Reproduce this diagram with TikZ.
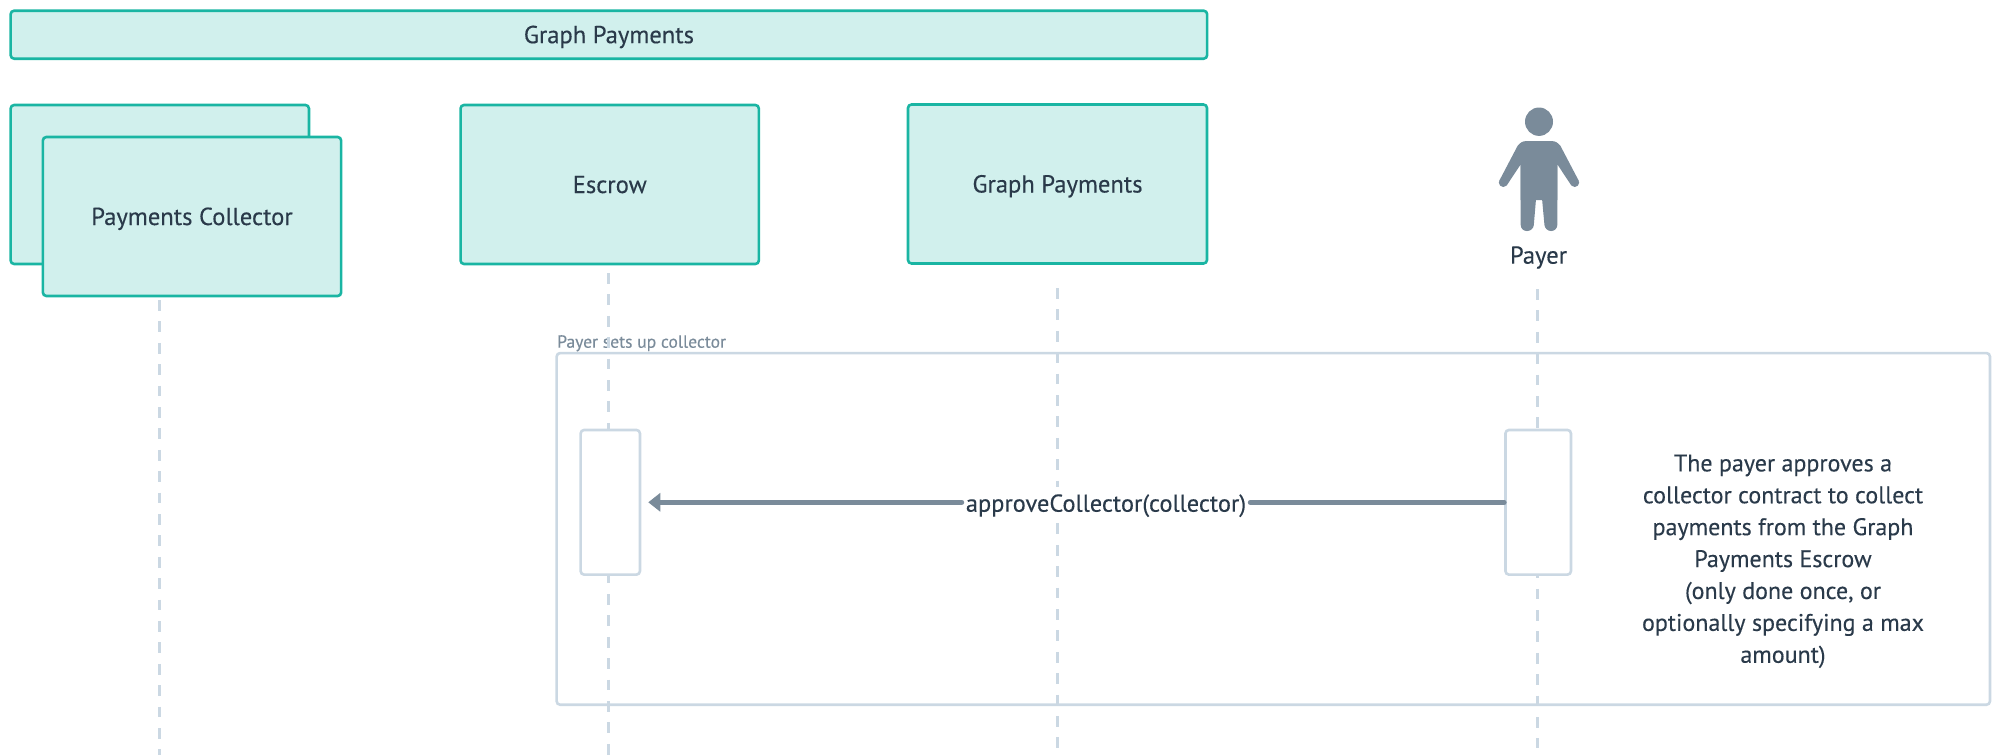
\documentclass[tikz,border=0pt]{standalone}
\usepackage{fontspec}
\setmainfont{PT Sans}
\newfontfamily\din[FakeBold=0.25]{PT Sans}
\usetikzlibrary{arrows.meta}
\definecolor{teal}{HTML}{1AB5A3}
\definecolor{tealfill}{HTML}{D1F0ED}
\definecolor{frameline}{HTML}{CBD8E3}
\definecolor{slate}{HTML}{7A8B9A}
\definecolor{ink}{HTML}{2A3A4A}
\newcommand{\lowered}[1]{\raisebox{-8.5pt}[0pt][0pt]{#1}}
\tikzset{
  x=1pt,y=-1pt,
  actor/.style={draw=teal,fill=tealfill,line width=2.6pt,rounded corners=3.5pt,text=ink,font=\din\fontsize{24.6}{28}\selectfont,inner sep=0pt},
  lifeline/.style={draw=frameline,line width=2.6pt,dash pattern=on 10.7pt off 10.7pt},
  activation/.style={draw=frameline,fill=white,line width=2.6pt,rounded corners=3.5pt,inner sep=0pt},
  msg/.style={draw=slate,line width=5pt,line cap=round},
  plain/.style={text=ink,font=\din\fontsize{24}{31.9}\selectfont,inner sep=0pt},
}
\begin{document}
\begin{tikzpicture}
\useasboundingbox (0,0) rectangle (2000,755);
% lifeline ends
\coordinate (colTop) at (159.4,300); \coordinate (colEnd) at (159.4,755);
\coordinate (escTop) at (608.5,273); \coordinate (escEnd) at (608.5,755);
\coordinate (gpTop) at (1057.5,288); \coordinate (gpEnd) at (1057.5,748);
\coordinate (payTop) at (1537.7,289); \coordinate (payEnd) at (1537.7,748);
% group frame
\node[draw=frameline,line width=2.6pt,rounded corners=3.5pt,minimum width=1433.3pt,minimum height=351.7pt,inner sep=0pt] (frame) at (1273.3,528.9) {};
\node[anchor=south west,text=slate,font=\din\fontsize{17.6}{20}\selectfont,inner sep=0pt] (framelabel) at (557,351.5) {Payer sets up collector};
\draw[lifeline] (colTop) -- (colEnd);
\draw[lifeline] (escTop) -- (escEnd);
\draw[lifeline] (gpTop) -- (gpEnd);
\draw[lifeline] (payTop) -- (payEnd);
% header boxes
\node[actor,minimum width=1196.5pt,minimum height=48pt] (bar) at (608.9,34.7) {\lowered{Graph Payments}};
\node[actor,minimum width=298.3pt,minimum height=159pt] (back) at (159.8,184.5) {};
\node[actor,minimum width=298.3pt,minimum height=159pt] (collector) at (192,216.5) {\lowered{Payments Collector}};
\node[actor,minimum width=298.3pt,minimum height=159pt] (escrow) at (609.7,184.5) {\lowered{Escrow}};
\node[actor,minimum width=299pt,minimum height=159pt] (graph) at (1057.5,184) {\lowered{Graph Payments}};
% payer figure
\fill[slate] (1539,121.7) ellipse [x radius=14pt,y radius=14.2pt];
\fill[slate] (1527,141) -- (1551,141) .. controls (1556,141) and (1558,143) .. (1560.5,146) -- (1578.7,180.7) -- (1571,185) -- (1557.3,164.3) -- (1557.3,200) -- (1520.7,200) -- (1520.7,164.3) -- (1507,185) -- (1499.3,180.7) -- (1517.5,146) .. controls (1520,143) and (1522,141) .. (1527,141) -- cycle;
\fill[slate] (1503.3,182.5) circle [radius=4.5pt];
\fill[slate] (1574.7,182.5) circle [radius=4.5pt];
\fill[slate,rounded corners=6pt] (1520.7,160) -- (1557.3,160) -- (1557.3,231) -- (1545,231) -- (1541.5,193) [rounded corners=1.5pt] -- (1541.5,193) -- (1539,191.5) -- (1536.5,193) [rounded corners=6pt] -- (1533.3,231) -- (1520.7,231) -- cycle;
\node[plain,font=\din\fontsize{24.6}{30}\selectfont] (payer) at (1538.5,257.5) {Payer};
% activations
\node[activation,minimum width=59.3pt,minimum height=144.7pt] (actL) at (610.3,502.3) {};
\node[activation,minimum width=65.5pt,minimum height=144.7pt] (actR) at (1538.2,502.3) {};
% message
\node[plain,font=\din\fontsize{24.4}{30}\selectfont,fill=white,inner xsep=4pt,minimum height=30pt] (label) at (1106,502.3) {\raisebox{-9.4pt}[0pt][0pt]{approveCollector(collector)}};
\draw[msg] (actR.west) -- (label.east);
\draw[msg,-{Triangle[length=12pt,width=18pt]},shorten >=7pt] (label.west) -- (actL.east);
% note
\node[plain,align=center] (note) at (1783,561.3) {The payer approves a\\collector contract to collect\\payments from the Graph\\Payments Escrow\hspace{9pt}\\(only done once, or\\optionally specifying a max\\amount)};
\end{tikzpicture}
\end{document}
